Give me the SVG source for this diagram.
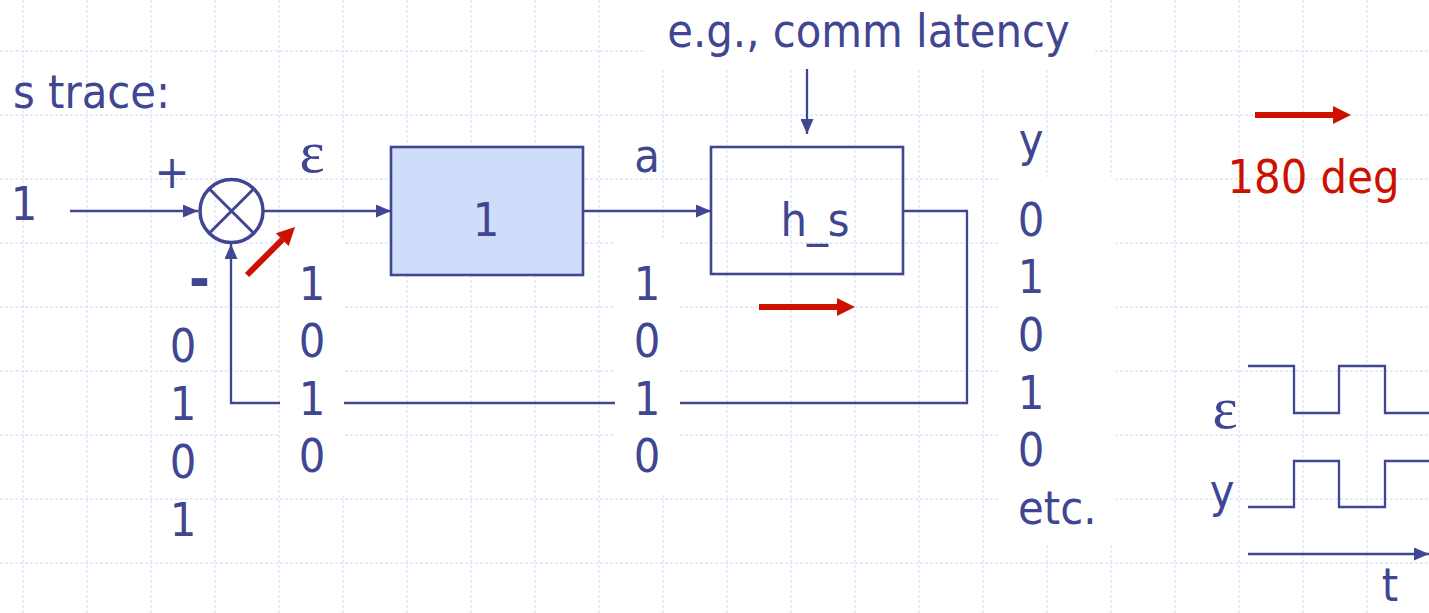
<svg xmlns="http://www.w3.org/2000/svg" width="1429" height="613" viewBox="0 0 1429 613">
<style>
.grid{fill:none;stroke:#dde5f9;stroke-width:1.4;stroke-dasharray:3 2}
.ln{fill:none;stroke:#404691;stroke-width:2.3}
.box{stroke:#404691;stroke-width:2.6}
.t{font-family:'DejaVu Sans Condensed','DejaVu Sans',sans-serif;font-size:46.5px;fill:#404691}
.c{text-anchor:middle}
.eps{font-family:'Liberation Serif','Times New Roman',serif;font-size:60px;fill:#404691;text-anchor:middle}
.red{fill:#cc1100}
.rl{fill:none;stroke:#cc1100;stroke-width:6}
.wb{fill:#ffffff}
</style>
<defs>
<marker id="ah" markerUnits="userSpaceOnUse" markerWidth="15" markerHeight="13" refX="15" refY="6.5" orient="auto">
<path d="M0,0 L15,6.5 L0,13 z" fill="#404691"/>
</marker>
<marker id="rah" markerUnits="userSpaceOnUse" markerWidth="18" markerHeight="18" refX="0" refY="9" orient="auto">
<path d="M0,0 L18,9 L0,18 z" fill="#cc1100"/>
</marker>
</defs>
<rect width="1429" height="613" fill="#ffffff"/>
<g id="grid">
<path class="grid" d="M23,0V613M87,0V613M151,0V613M215,0V613M279,0V613M343,0V613M407,0V613M471,0V613M535,0V613M599,0V613M663,0V613M727,0V613M791,0V613M855,0V613M919,0V613M983,0V613M1047,0V613M1111,0V613M1175,0V613M1239,0V613M1303,0V613M1367,0V613"/>
<path class="grid" d="M0,51H1429M0,115H1429M0,179H1429M0,243H1429M0,307H1429M0,371H1429M0,435H1429M0,499H1429M0,563H1429"/>
</g>
<g id="connectors">
<path class="ln" d="M70,211H198" marker-end="url(#ah)"/>
<path class="ln" d="M263,211H391" marker-end="url(#ah)"/>
<path class="ln" d="M583,211H711" marker-end="url(#ah)"/>
<path class="ln" d="M903,211H967V403H231V244" marker-end="url(#ah)"/>
<path class="ln" d="M807,69V134" marker-end="url(#ah)"/>
</g>
<g id="textboxes">
<rect class="wb" x="646" y="0" width="448" height="69"/>
<rect class="wb" x="280" y="240" width="64" height="256"/>
<rect class="wb" x="615" y="240" width="65" height="253"/>
<rect class="wb" x="998" y="177" width="118" height="368"/>
</g>
<g id="sum">
<circle cx="231.5" cy="211" r="31.5" fill="none" stroke="#404691" stroke-width="3.5"/>
<path d="M209.2,188.7L253.8,233.3M253.8,188.7L209.2,233.3" stroke="#404691" stroke-width="3"/>
</g>
<g id="block-gain">
<rect class="box" x="391" y="147" width="192" height="128" fill="#cfdcfa"/>
<text class="t c" x="486" y="236">1</text>
</g>
<g id="block-hs">
<rect class="box" x="711" y="147" width="192" height="127" fill="none"/>
<text class="t c" x="815" y="236">h_s</text>
</g>
<g id="labels">
<text class="t" x="13" y="108">s trace:</text>
<text class="t c" x="868.5" y="46.5">e.g., comm latency</text>
<text class="t c" x="24" y="220">1</text>
<text class="t c" x="172" y="188">+</text>
<text class="t c" x="199.5" y="298" style="font-weight:bold;font-size:56px">-</text>
<text class="eps" x="312" y="172">ε</text>
<text class="t c" x="647" y="172">a</text>
<text class="t c" x="1031" y="156">y</text>
</g>
<g id="col-left">
<text class="t c" x="183" y="362">0</text>
<text class="t c" x="183" y="420">1</text>
<text class="t c" x="183" y="478">0</text>
<text class="t c" x="183" y="536">1</text>
</g>
<g id="col-eps">
<text class="t c" x="312" y="300">1</text>
<text class="t c" x="312" y="357">0</text>
<text class="t c" x="312" y="415">1</text>
<text class="t c" x="312" y="472">0</text>
</g>
<g id="col-a">
<text class="t c" x="647" y="300">1</text>
<text class="t c" x="647" y="357">0</text>
<text class="t c" x="647" y="415">1</text>
<text class="t c" x="647" y="472">0</text>
</g>
<g id="col-y">
<text class="t c" x="1031" y="236">0</text>
<text class="t c" x="1031" y="293">1</text>
<text class="t c" x="1031" y="351">0</text>
<text class="t c" x="1031" y="409">1</text>
<text class="t c" x="1031" y="466">0</text>
<text class="t" x="1018" y="524">etc.</text>
</g>
<g id="red-arrows">
<path class="rl" d="M247,275L282.3,239.7" marker-end="url(#rah)"/>
<path class="rl" d="M759,307H837" marker-end="url(#rah)"/>
<path class="rl" d="M1255,115H1333" marker-end="url(#rah)"/>
<text class="t c red" x="1313.5" y="193">180 deg</text>
</g>
<g id="waveforms">
<path class="ln" d="M1248,366H1294V413H1339V366H1385V413H1429"/>
<path class="ln" d="M1248,507H1294V461H1339V507H1385V461H1429"/>
<path class="ln" d="M1248,554H1429" marker-end="url(#ah)"/>
<text class="eps" x="1225" y="428">ε</text>
<text class="t c" x="1222" y="507">y</text>
<text class="t c" x="1390" y="601">t</text>
</g>
</svg>
